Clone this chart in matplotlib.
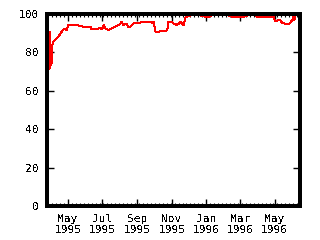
import matplotlib
matplotlib.use("Agg")
import matplotlib.pyplot as plt
import matplotlib.dates as mdates
import numpy as np
import datetime as dt

dates = [
    "1995-03-25", "1995-03-26", "1995-03-27", "1995-03-28", "1995-03-29",
    "1995-03-30", "1995-03-31", "1995-04-01", "1995-04-02", "1995-04-03",
    "1995-04-04", "1995-04-05", "1995-04-07", "1995-04-11", "1995-04-14",
    "1995-04-17", "1995-04-20", "1995-04-23", "1995-04-26", "1995-04-29",
    "1995-05-02", "1995-05-26", "1995-05-27", "1995-06-10", "1995-06-12",
    "1995-06-21", "1995-06-27", "1995-06-30", "1995-07-04", "1995-07-06",
    "1995-07-12", "1995-07-18", "1995-07-24", "1995-07-27", "1995-07-31",
    "1995-08-04", "1995-08-07", "1995-08-10", "1995-08-13", "1995-08-16",
    "1995-08-19", "1995-08-25", "1995-09-03", "1995-09-09", "1995-09-24",
    "1995-09-27", "1995-09-30", "1995-10-03", "1995-10-08", "1995-10-11",
    "1995-10-20", "1995-10-24", "1995-10-26", "1995-11-01", "1995-11-04",
    "1995-11-10", "1995-11-13", "1995-11-17", "1995-11-19", "1995-11-22",
    "1995-11-25", "1995-11-28", "1995-12-04", "1995-12-21", "1995-12-24",
    "1995-12-30", "1996-01-05", "1996-01-08", "1996-01-11", "1996-02-09",
    "1996-02-12", "1996-02-18", "1996-03-07", "1996-03-10", "1996-03-16",
    "1996-03-28", "1996-03-31", "1996-04-29", "1996-05-02", "1996-05-08",
    "1996-05-11", "1996-05-14", "1996-05-20", "1996-05-26", "1996-05-29",
    "1996-06-01", "1996-06-03", "1996-06-05", "1996-06-07", "1996-06-15",
]
values = [
    74, 72, 78, 71.5, 77,
    90.8, 72, 78, 74, 82,
    85, 85.6, 86.1, 87.3, 88.2,
    89.4, 90.8, 92, 92.2, 91.7,
    94.3, 93.9, 93.4, 93.4, 92,
    92.2, 92.6, 92, 94.3, 92.5,
    91.7, 92.5, 93.4, 93.9, 94.3,
    96, 94.3, 94.6, 95, 93.4,
    93.1, 95.1, 95.1, 96, 96,
    95.5, 95.7, 90.8, 90.5, 91.1,
    91.1, 91.7, 96, 95.8, 95.1,
    94.3, 94.8, 96, 95.1, 94.3,
    98.3, 98.6, 99.3, 99.3, 99,
    98.6, 98.6, 99, 99.3, 99.3,
    98.8, 98.6, 98.6, 99, 99.3,
    99.3, 98.6, 98.6, 96.5, 96.7,
    97, 95.5, 94.8, 94.6, 95.5,
    96.7, 98.3, 97, 99.3, 99.3,
]
y_ticks = [0, 20, 40, 60, 80, 100]
x_start = "1995-03-25"
x_end = "1996-06-15"

plt.rcParams['text.antialiased'] = False
plt.rcParams['font.family'] = ['DejaVu Sans Mono']

fig = plt.figure(figsize=(3.2, 2.4), dpi=100)
ax = fig.add_axes([47/320, 34/240, 253/320, 192/240])

x = [dt.datetime.strptime(d, "%Y-%m-%d") for d in dates]
ax.plot(x, values, color="#ff0000", linewidth=0.72, antialiased=False)

ax.set_xlim(dt.datetime.strptime(x_start, "%Y-%m-%d"), dt.datetime.strptime(x_end, "%Y-%m-%d"))
ax.set_ylim(0, 100)
ax.set_yticks(y_ticks)

ax.xaxis.set_major_locator(mdates.MonthLocator(bymonth=[1, 3, 5, 7, 9, 11]))
ax.xaxis.set_major_formatter(mdates.DateFormatter("%b\n%Y"))
ax.xaxis.set_minor_locator(mdates.WeekdayLocator(byweekday=mdates.MO))

for s in ax.spines.values():
    s.set_linewidth(1.5)
    s.set_antialiased(False)

ax.tick_params(axis="both", which="major", direction="in", length=5, width=1.0,
               top=True, right=True, labelsize=8, pad=6)
ax.tick_params(axis="x", which="minor", direction="in", length=2.5, width=0.8,
               top=True, bottom=True)
ax.tick_params(axis="y", which="major", pad=6)
for lab in ax.get_xticklabels():
    lab.set_linespacing(1.1)

fig.savefig("out.png", dpi=100)
